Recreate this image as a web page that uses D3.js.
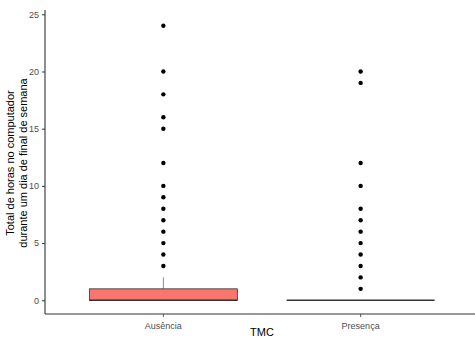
<!DOCTYPE html>
<html>
<head>
<meta charset="utf-8">
<script src="https://cdn.jsdelivr.net/npm/d3@7"></script>
<style>
  html, body { margin: 0; padding: 0; background: #fff; overflow: hidden; }
  svg { display: block; font-family: "Liberation Sans", Arial, sans-serif; }
</style>
</head>
<body>
<svg id="chart" width="475" height="340"></svg>
<script>
// Groups on the x axis
const categories = ["Ausência", "Presença"];
// Box summaries per group: lower whisker, q1, median, q3, upper whisker
const lowerWhisker = [0, 0];
const q1 = [0, 0];
const median = [0, 0];
const q3 = [1, 0];
const upperWhisker = [2, 0];
// Outlying observations per group
const outliersAusencia = [3, 4, 5, 6, 7, 8, 9, 10, 12, 15, 16, 18, 20, 24];
const outliersPresenca = [1, 2, 3, 4, 5, 6, 7, 8, 10, 12, 19, 20];
const yTicks = [0, 5, 10, 15, 20, 25];
const fillColors = ["#F8766D", "#00BFC4"];

const outliers = [outliersAusencia, outliersPresenca];

const svg = d3.select("#chart");
const margin = { left: 45, right: -4, top: 12, bottom: 26 };
const W = 475, H = 340;
const x0 = margin.left, x1 = W - margin.right;
const y0 = H - margin.bottom, y1 = margin.top;

// Discrete positions 1..n with 0.6 expansion on each side
const xPos = d3.scaleLinear().domain([0.4, categories.length + 0.6]).range([x0, x1]);
const allVals = outliers.flat().concat(upperWhisker, lowerWhisker);
const ymin = d3.min(allVals), ymax = d3.max(allVals);
const pad = (ymax - ymin) * 0.05;
const y = d3.scaleLinear().domain([ymin - pad, ymax + pad]).range([y0, y1]);

const boxWidth = 0.75;
const g = svg.append("g");

categories.forEach((c, i) => {
  const cx = xPos(i + 1);
  const half = xPos(i + 1 + boxWidth / 2) - cx;
  // whiskers
  g.append("line").attr("x1", cx).attr("x2", cx)
    .attr("y1", y(q3[i])).attr("y2", y(upperWhisker[i]))
    .attr("stroke", "#8c8c8c").attr("stroke-width", 1);
  g.append("line").attr("x1", cx).attr("x2", cx)
    .attr("y1", y(q1[i])).attr("y2", y(lowerWhisker[i]))
    .attr("stroke", "#8c8c8c").attr("stroke-width", 1);
  // box
  g.append("rect")
    .attr("x", cx - half).attr("width", 2 * half)
    .attr("y", y(q3[i])).attr("height", Math.max(0, y(q1[i]) - y(q3[i])))
    .attr("fill", fillColors[0]).attr("stroke", "#333").attr("stroke-width", 0.8);
  // median
  g.append("line").attr("x1", cx - half).attr("x2", cx + half)
    .attr("y1", y(median[i])).attr("y2", y(median[i]))
    .attr("stroke", "#333").attr("stroke-width", 1.6);
  // outliers
  g.selectAll(null).data(outliers[i]).enter().append("circle")
    .attr("cx", cx).attr("cy", d => y(d)).attr("r", 2.2).attr("fill", "#000");
});

// Axes
const xAxisG = svg.append("g").attr("transform", `translate(0,${y0})`);
xAxisG.append("line").attr("x1", x0).attr("x2", x1).attr("y1", 0).attr("y2", 0)
  .attr("stroke", "#333").attr("stroke-width", 1.1);
categories.forEach((c, i) => {
  const cx = xPos(i + 1);
  xAxisG.append("line").attr("x1", cx).attr("x2", cx).attr("y1", 0).attr("y2", 3)
    .attr("stroke", "#333").attr("stroke-width", 0.8);
  xAxisG.append("text").attr("x", cx).attr("y", 15).attr("text-anchor", "middle")
    .attr("font-size", 9).attr("fill", "#4d4d4d").text(c);
});

const yAxis = d3.axisLeft(y).tickValues(yTicks).tickSize(3).tickPadding(3);
const yAxisG = svg.append("g").attr("transform", `translate(${x0},0)`).call(yAxis);
yAxisG.select(".domain").attr("d", `M0,${y0}V${y1 - 2}`).attr("stroke", "#333").attr("stroke-width", 1.1);
yAxisG.selectAll(".tick line").attr("stroke", "#333");
yAxisG.selectAll(".tick text").attr("font-size", 9).attr("fill", "#4d4d4d")
  .attr("font-family", "Liberation Sans, Arial, sans-serif");

// Titles
svg.append("text").attr("x", (x0 + x1) / 2).attr("y", 336).attr("text-anchor", "middle")
  .attr("font-size", 11).attr("fill", "#000").text("TMC");

const yt = svg.append("text").attr("transform", `translate(14,${(y0 + y1) / 2}) rotate(-90)`)
  .attr("text-anchor", "middle").attr("font-size", 11).attr("fill", "#000");
yt.append("tspan").attr("x", 0).attr("dy", 0).text("Total de horas no computador");
yt.append("tspan").attr("x", 0).attr("dy", 12.5).text("durante um dia de final de semana");
</script>
</body>
</html>
